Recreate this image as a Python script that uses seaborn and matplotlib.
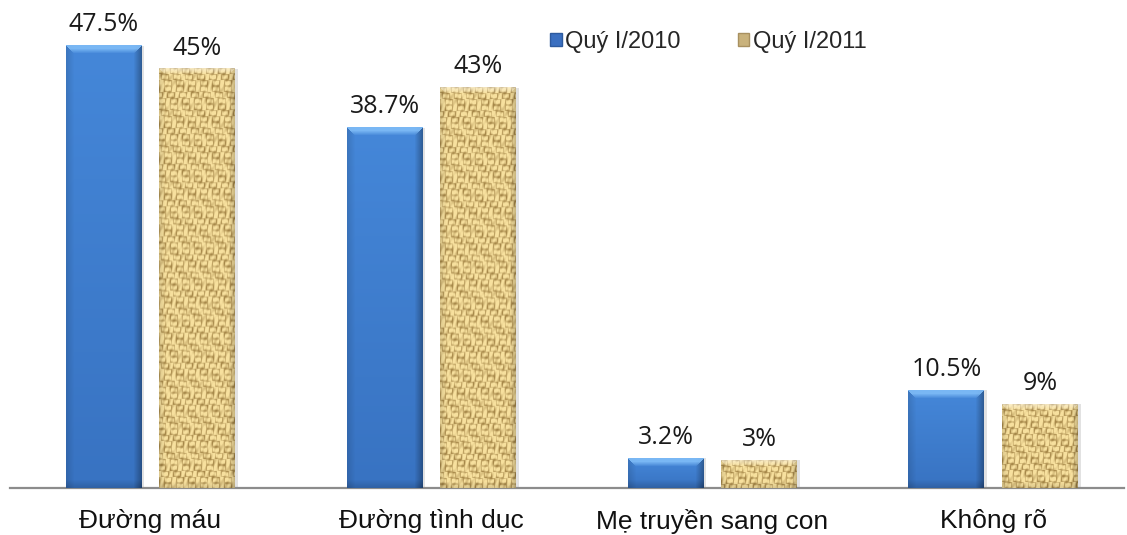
import numpy as np
import pandas as pd
import matplotlib
matplotlib.use("Agg")
import matplotlib.pyplot as plt
import seaborn as sns
from matplotlib.patches import Patch

# DATA
categories = ['Đường máu', 'Đường tình dục', 'Mẹ truyền sang con', 'Không rõ']
series_names = ['Quý I/2010', 'Quý I/2011']
q1_2010 = [47.5, 38.7, 3.2, 10.5]
q1_2011 = [45, 43, 3, 9]

df = pd.DataFrame({
    'category': categories * 2,
    'series': [series_names[0]] * 4 + [series_names[1]] * 4,
    'value': q1_2010 + q1_2011,
})

sns.set_style("white")
plt.rcParams['font.family'] = ['Liberation Sans', 'DejaVu Sans']

fig = plt.figure(figsize=(11.27, 5.35), dpi=100)
ax = fig.add_axes([10 / 1127, 47 / 535, 1114 / 1127, 488 / 535])

sns.barplot(
    data=df, x='category', y='value', hue='series',
    palette=['#3f7cce', '#dcc58a'],
    width=0.666, gap=0.19, legend=False, ax=ax,
    edgecolor='none', zorder=2
)

ax.set_xlim(-0.5, 3.466)
ax.set_ylim(0, 52.4)


def ramp(d, b):
    # 1 at the edge, 0 at distance b
    return np.clip(1 - d / b, 0, 1)


# bar textures
def blue_img(h, w):
    yy, xx = np.mgrid[0:h, 0:w].astype(float)
    t = yy / max(h - 1, 1)
    top = np.array([0.27, 0.53, 0.85])
    bot = np.array([0.22, 0.45, 0.76])
    img = top[None, None, :] * (1 - t[..., None]) + bot[None, None, :] * t[..., None]
    b = 8
    shade = 1 - 0.12 * ramp(xx, b) - 0.30 * ramp(w - 1 - xx, b) - 0.15 * ramp(h - 1 - yy, b)
    img = img * shade[..., None]
    lt = np.clip(ramp(yy, b) * 1.6, 0, 1) * (xx >= yy) * (xx <= w - 1 - yy)
    light = np.array([0.50, 0.74, 0.97])
    img = img * (1 - 0.9 * lt[..., None]) + light[None, None, :] * 0.9 * lt[..., None]
    return np.clip(img, 0, 1)


def burlap_img(h, w):
    yy, xx = np.mgrid[0:h, 0:w].astype(float)
    cell = 6
    bi = (yy // cell).astype(int)
    bj = ((xx + 3 * (bi % 3)) // cell).astype(int)
    horiz = ((bi + bj) % 2) == 0
    sh = np.sin(np.pi * ((yy % cell) + 0.5) / cell)
    sv = np.sin(np.pi * (((xx + 3 * (bi % 3)) % cell) + 0.5) / cell)
    v = np.where(horiz, sh, sv) ** 0.5
    v = v + 0.15 * np.sin(0.53 * yy + 1.1 * xx) + 0.12 * np.sin(0.21 * xx - 0.37 * yy)
    v = np.clip(v, 0, 1)
    dark = np.array([0.55, 0.42, 0.18])
    lite = np.array([0.97, 0.88, 0.62])
    img = dark[None, None, :] * (1 - v[..., None]) + lite[None, None, :] * v[..., None]
    b = 6
    shade = 1 - 0.10 * ramp(xx, b) - 0.18 * ramp(w - 1 - xx, b) - 0.10 * ramp(h - 1 - yy, b)
    img = img * shade[..., None]
    lt = ramp(yy, b) * (xx >= yy) * (xx <= w - 1 - yy)
    img = img * (1 - 0.4 * lt[..., None]) + 0.4 * lt[..., None]
    return np.clip(img, 0, 1)


fig.canvas.draw()
for k, container in enumerate(ax.containers):
    for bar in container:
        x0, y0 = bar.get_x(), bar.get_y()
        x1, y1 = x0 + bar.get_width(), y0 + bar.get_height()
        p0 = ax.transData.transform((x0, y0))
        p1 = ax.transData.transform((x1, y1))
        w = max(int(round(p1[0] - p0[0])), 2)
        h = max(int(round(p1[1] - p0[1])), 2)
        img = blue_img(h, w) if k == 0 else burlap_img(h, w)
        # soft shadow on the right
        ax.add_patch(plt.Rectangle((x1, y0), 0.01, bar.get_height(),
                                   color='#e2e2e2', zorder=1, lw=0))
        ax.imshow(img, extent=[x0, x1, y0, y1], aspect='auto',
                  interpolation='bilinear', zorder=3)

ax.set_xlim(-0.5, 3.466)
ax.set_ylim(0, 52.4)

# value labels
for container, vals in zip(ax.containers, [q1_2010, q1_2011]):
    ax.bar_label(container, labels=[f"{v:g}%" for v in vals], padding=6,
                 fontsize=18, family=['Open Sans', 'DejaVu Sans'], color='#1a1a1a')

ax.set_xlabel('')
ax.set_ylabel('')
ax.set_yticks([])
ax.tick_params(axis='x', length=0, pad=15, labelsize=19, labelcolor='#111111')
for s in ['left', 'top', 'right']:
    ax.spines[s].set_visible(False)
ax.spines['bottom'].set_color('#8c8c8c')
ax.spines['bottom'].set_linewidth(1.6)

handles = [Patch(facecolor='#3a6fc0', edgecolor='#2d5a9e'),
           Patch(facecolor='#c9b27c', edgecolor='#a89060')]
fig.legend(handles, series_names, loc='upper left',
           bbox_to_anchor=(550 / 1127, 1 - 31 / 535), ncol=2, frameon=False,
           fontsize=17, handlelength=0.5, handleheight=0.5, handletextpad=0.15,
           columnspacing=2.4, borderpad=0, borderaxespad=0)

fig.savefig("out.png", dpi=100)
